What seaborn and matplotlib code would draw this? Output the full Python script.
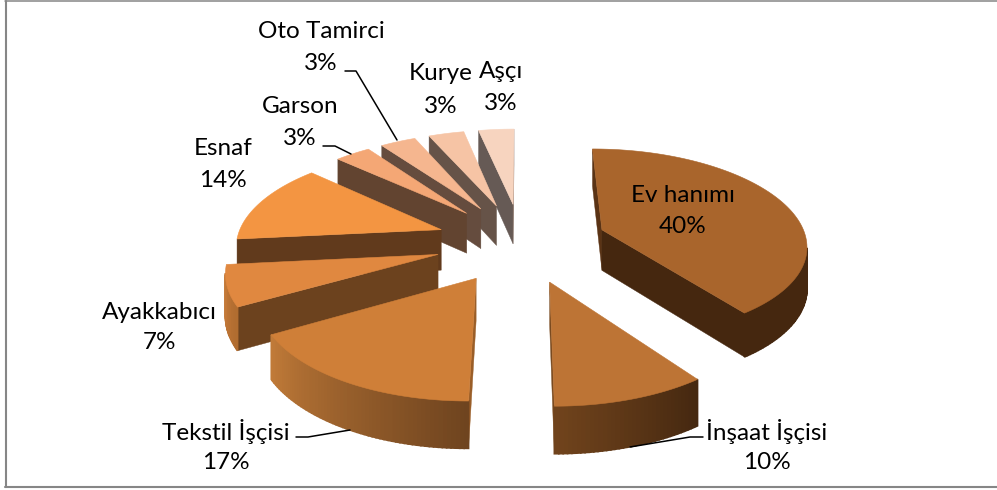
import numpy as np
import matplotlib
matplotlib.use("Agg")
import matplotlib.pyplot as plt
import seaborn as sns

# ── Data ──────────────────────────────────────────────
categories = ["Ev hanımı", "İnşaat İşçisi", "Tekstil İşçisi", "Ayakkabıcı", "Esnaf",
              "Garson", "Oto Tamirci", "Kurye", "Aşçı"]
# slice sizes as measured on the picture, printed labels are rounded
shares = [40, 10, 16.7, 6.7, 13.4, 3.3, 3.3, 3.3, 3.3]
labels = [40, 10, 17, 7, 14, 3, 3, 3, 3]

top_colors = ["#A9652C", "#BD7435", "#CF7F38", "#E08840", "#F39542",
              "#F4A775", "#F5B68F", "#F6C4A5", "#F7D4BF"]
start_face = ["#5A3315", "#452810", "#9A5E28", "#6C421E", "#613A1C",
              "#624430", "#654C3E", "#665348", "#665A55"]
end_face = ["#45270F", "#7A4A1F", "#6F441F", "#6C421E", "#613A1C",
            "#624430", "#654C3E", "#665348", "#8A7468"]
rim_start = ["#45270F", "#452810", "#6F441F", "#B06C30", "#8A5424",
             "#624430", "#654C3E", "#665348", "#665A55"]
rim_end = ["#45270F", "#70431C", "#C07A38", "#C97C3A", "#8A5424",
           "#624430", "#654C3E", "#665348", "#665A55"]

# label centres (x, y of the two text rows) in picture pixels
label_x = [683, 767, 226, 159, 223, 300, 321, 441, 501]
label_y1 = [195, 431, 431, 312, 148, 106, 31, 74, 72]
label_y2 = [226, 462, 462, 342, 180, 138, 63, 106, 103]

# ── Projection settings ───────────────────────────────
CX, CY = 521.5, 242
SCALE_X, SCALE_Y = 205, 95
EXPLODE = 0.42
PERSP = 0.136
THICK = 41

# back slices first, near ones last
draw_order = [8, 7, 6, 5, 4, 3, 0, 2, 1]


def project(u, v, down=False):
    s = 1 / (1 + PERSP * v)
    x = CX + SCALE_X * u * s
    y = CY - SCALE_Y * v * s
    if down:
        y = y + THICK * s ** 0.7
    return x, y


def area(pts):
    xs = np.array([p[0] for p in pts])
    ys = np.array([p[1] for p in pts])
    return 0.5 * np.sum(xs * np.roll(ys, -1) - np.roll(xs, -1) * ys)


def wall(ax, a, b, color, lw=0.3):
    # a -> b runs clockwise on screen round the top face, cull faces turned away
    pts = [project(*a), project(*b), project(*b, down=True), project(*a, down=True)]
    if area(pts) < 0:
        ax.fill(*zip(*pts), facecolor=color, edgecolor=color, lw=lw, zorder=2)


sns.set_theme(style="white")
plt.rcParams["font.family"] = ["Lato", "DejaVu Sans"]

fig, ax = plt.subplots(figsize=(9.97, 4.9), dpi=100)
ax.set_position([0, 0, 1, 1])
ax.set_xlim(0, 997)
ax.set_ylim(490, 0)
ax.axis("off")

edges = np.cumsum([0] + shares) / sum(shares) * 2 * np.pi

for i in draw_order:
    a0, a1 = edges[i], edges[i + 1]
    mid = (a0 + a1) / 2
    ox, oy = EXPLODE * np.sin(mid), EXPLODE * np.cos(mid)
    n = max(int(np.degrees(a1 - a0)), 6)
    angles = np.linspace(a0, a1, n + 1)
    rim = [(ox + np.sin(t), oy + np.cos(t)) for t in angles]
    apex = (ox, oy)
    shades = sns.blend_palette([rim_start[i], rim_end[i]], n)

    wall(ax, apex, rim[0], start_face[i])
    wall(ax, rim[-1], apex, end_face[i])
    for k in range(n):
        wall(ax, rim[k], rim[k + 1], shades[k], lw=1.2)

    top = [project(*apex)] + [project(*p) for p in rim]
    ax.fill(*zip(*top), facecolor=top_colors[i], edgecolor=top_colors[i], lw=0.4, zorder=3)

# ── Labels ────────────────────────────────────────────
for i, name in enumerate(categories):
    ax.text(label_x[i], label_y1[i], name, ha="center", va="center",
            fontsize=17.5, color="black", zorder=5)
    ax.text(label_x[i], label_y2[i], f"{labels[i]}%", ha="center", va="center",
            fontsize=17.5, color="black", zorder=5)

# leader lines
leaders = [
    ([345, 356, 397], [71, 71, 140]),
    ([323, 335, 351], [146, 146, 154]),
    ([296, 308, 350], [437, 437, 430]),
    ([703, 690, 630], [437, 437, 447]),
]
for lx, ly in leaders:
    ax.plot(lx, ly, color="black", lw=1.1, zorder=4)

# frame: picture is cropped, no right side
ax.plot([6, 6], [1, 487], color="#868686", lw=1.5, zorder=6)
ax.plot([5, 997], [1.5, 1.5], color="#868686", lw=1.1, zorder=6)
ax.plot([5, 997], [487, 487], color="#868686", lw=1.5, zorder=6)

plt.savefig("out.png", dpi=100, facecolor="white")
plt.close()
